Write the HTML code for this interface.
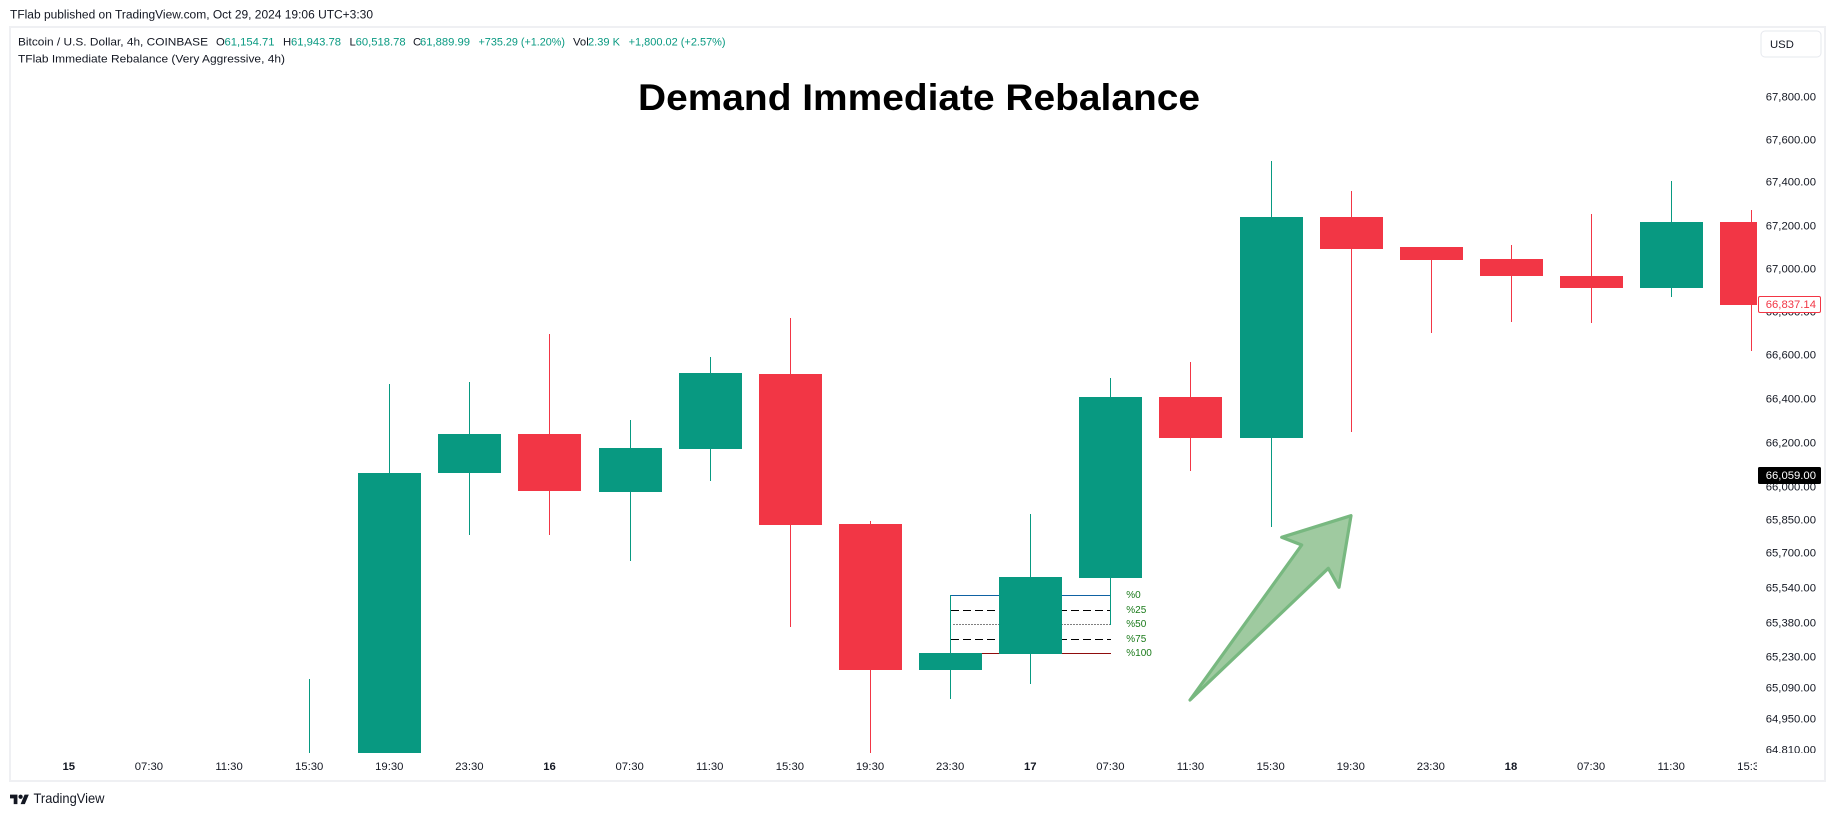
<!DOCTYPE html>
<html lang="en">
<head>
<meta charset="utf-8">
<title>Demand Immediate Rebalance</title>
<style>
html,body{margin:0;padding:0;background:#fff;width:1835px;height:816px;overflow:hidden}
svg{display:block;font-family:"Liberation Sans",Arial,sans-serif}
text{fill:#131722;font-size:11.3px}
.g{fill:#089981}
</style>
</head>
<body>
<svg id="chart" xmlns="http://www.w3.org/2000/svg" width="1835" height="816" viewBox="0 0 1835 816">
  <defs>
    <clipPath id="plot-clip"><rect x="11" y="28" width="1746" height="725"/></clipPath>
    <clipPath id="time-clip"><rect x="11" y="753" width="1746" height="27"/></clipPath>
    <clipPath id="price-clip"><rect x="1757" y="28" width="67" height="725"/></clipPath>
  </defs>
  <rect x="0" y="0" width="1835" height="816" fill="#fff"/>
  <text x="10" y="18.5" textLength="363" lengthAdjust="spacingAndGlyphs" style="font-size:11.5px">TFlab published on TradingView.com, Oct 29, 2024 19:06 UTC+3:30</text>
  <rect x="10" y="27" width="1815" height="754" fill="none" stroke="#eff0f3" stroke-width="2"/>

  <g id="rebalance-lines" clip-path="url(#plot-clip)"></g>
  <g id="candles" clip-path="url(#plot-clip)"></g>
  <g id="rebalance-labels"></g>

  <polygon points="1190,700 1301.7,545 1281.7,537.3 1351,515.7 1339,587.3 1328.3,568.3" fill="#9fcaa0" stroke="#78b880" stroke-width="3.2" stroke-linejoin="round"/>

  <text x="638" y="110" textLength="562" lengthAdjust="spacingAndGlyphs" style="font-size:37px;font-weight:bold;fill:#000">Demand Immediate Rebalance</text>

  <g>
    <text x="18" y="45.5" textLength="190" lengthAdjust="spacingAndGlyphs">Bitcoin / U.S. Dollar, 4h, COINBASE</text>
    <text x="216" y="45.5">O</text>
    <text class="g" x="224.5" y="45.5" textLength="50" lengthAdjust="spacingAndGlyphs">61,154.71</text>
    <text x="283" y="45.5">H</text>
    <text class="g" x="291" y="45.5" textLength="50" lengthAdjust="spacingAndGlyphs">61,943.78</text>
    <text x="349.5" y="45.5">L</text>
    <text class="g" x="355.6" y="45.5" textLength="50" lengthAdjust="spacingAndGlyphs">60,518.78</text>
    <text x="413" y="45.5">C</text>
    <text class="g" x="420" y="45.5" textLength="50" lengthAdjust="spacingAndGlyphs">61,889.99</text>
    <text class="g" x="478.5" y="45.5" textLength="86.5" lengthAdjust="spacingAndGlyphs">+735.29 (+1.20%)</text>
    <text x="573" y="45.5">Vol</text>
    <text class="g" x="588" y="45.5" textLength="32" lengthAdjust="spacingAndGlyphs">2.39 K</text>
    <text class="g" x="628.6" y="45.5" textLength="97" lengthAdjust="spacingAndGlyphs">+1,800.02 (+2.57%)</text>
    <text x="18" y="62.5" textLength="267" lengthAdjust="spacingAndGlyphs">TFlab Immediate Rebalance (Very Aggressive, 4h)</text>
  </g>

  <g id="price-axis" clip-path="url(#price-clip)"></g>
  <g id="time-axis" clip-path="url(#time-clip)"></g>
  <g id="price-tags"></g>

  <g>
    <rect x="1761" y="31" width="60" height="26" rx="4" fill="#fff" stroke="#e6e8ee" stroke-width="1"/>
    <text x="1770" y="48">USD</text>
  </g>

  <g>
    <g transform="translate(10,792.5) scale(0.53)" fill="#131722">
      <path d="M14 22H7V11H0V4h14v18zM28 22h-8l7.5-18h8L28 22z"/>
      <circle cx="20" cy="8" r="4"/>
    </g>
    <text x="33.5" y="803" textLength="71" lengthAdjust="spacingAndGlyphs" style="font-size:14px">TradingView</text>
  </g>
</svg>
<script>
var timeLabels = ['15','07:30','11:30','15:30','19:30','23:30','16','07:30','11:30','15:30','19:30','23:30','17','07:30','11:30','15:30','19:30','23:30','18','07:30','11:30','15:30'];
var boldTimeLabels = ['15','16','17','18'];
var firstCandleLabelIndex = 3;
var opens  = [64300,64500,66062,66240,65975,66171,66515,65830,65170,65242,65585,66409,66222,67239,67100,67045,66966,66911,67216];
var highs  = [65129,66469,66478,66699,66304,66593,66772,65844,65508,65875,66496,66570,67500,67360,67100,67110,67253,67407,67272];
var lows   = [64100,64400,65780,65780,65662,66025,65364,64798,65040,65107,65372,66071,65816,66249,66703,66754,66749,66869,66620];
var closes = [64500,66062,66240,65980,66176,66519,65825,65170,65246,65590,66409,66222,67239,67091,67040,66966,66911,67216,66833];
var priceTicks = [67800,67600,67400,67200,67000,66800,66600,66400,66200,66000,65850,65700,65540,65380,65230,65090,64950,64810];
var levelPrices = [65508,65440,65377,65309,65246];
var levelLabels = ['%0','%25','%50','%75','%100'];
var lastPrice = 66837.14;
var markedPrice = 66059;

var NS = 'http://www.w3.org/2000/svg';
var PLOT_BOTTOM = 753;
var PLOT_RIGHT = 1757;
function yAt(p){ return 96.7 + 14490 * Math.log(67800 / p); }
function xAt(slot){ return 69.2 + 80.12 * slot; }
function fmt(v){ return v.toLocaleString('en-US',{minimumFractionDigits:2,maximumFractionDigits:2}); }
function mk(tag, attrs, parent){
  var el = document.createElementNS(NS, tag);
  for (var k in attrs) el.setAttribute(k, attrs[k]);
  parent.appendChild(el);
  return el;
}

var candleGroup = document.getElementById('candles');
closes.forEach(function(c, i){
  var o = opens[i], up = c >= o;
  var col = up ? '#089981' : '#f23645';
  var left = Math.round(xAt(i + firstCandleLabelIndex) - 31.5);
  var top = Math.min(Math.round(yAt(Math.max(o, c))), PLOT_BOTTOM);
  var bot = Math.min(Math.round(yAt(Math.min(o, c))), PLOT_BOTTOM);
  var hi = Math.min(Math.round(yAt(highs[i])), PLOT_BOTTOM);
  var lo = Math.min(Math.round(yAt(lows[i])), PLOT_BOTTOM);
  var wick = mk('rect', {x: left + 31, y: hi, width: 1, height: Math.max(lo - hi, 0), fill: col, 'shape-rendering': 'crispEdges'}, candleGroup);
  
  
  var body = mk('rect', {x: left, y: top, width: Math.min(63, PLOT_RIGHT - left), height: Math.max(bot - top, 0), fill: col, 'shape-rendering': 'crispEdges'}, candleGroup);
  
  
});

var lineGroup = document.getElementById('rebalance-lines');
var labelGroup = document.getElementById('rebalance-labels');
var levelStrokes = ['#0f62a3','#000','#000','#000','#8f0c0c'];
var levelDash = ['none','8 4','1 2','8 4','none'];
levelPrices.forEach(function(p, i){
  var y = Math.round(yAt(p)) + 0.5;
  var x0 = xAt(firstCandleLabelIndex + 8);
  var x1 = xAt(firstCandleLabelIndex + 10);
  var line = mk('line', {x1: x0 + (i === 2 ? 3 : 0.5), y1: y, x2: x1, y2: y, stroke: levelStrokes[i], 'stroke-width': 1, 'stroke-dasharray': levelDash[i], 'shape-rendering': 'crispEdges'}, lineGroup);
  
  
  var t = mk('text', {x: x1 + 15.5, y: y + 2.5, style: 'font-size:10px;fill:#1a7a1a'}, labelGroup);
  t.textContent = levelLabels[i];
  
  
});

var priceAxis = document.getElementById('price-axis');
priceTicks.forEach(function(p){
  var t = mk('text', {x: 1816, y: Math.round(yAt(p)) + 3.5, 'text-anchor': 'end'}, priceAxis);
  t.textContent = fmt(p);
  
  
});

var timeAxis = document.getElementById('time-axis');
timeLabels.forEach(function(lbl, i){
  var bold = boldTimeLabels.indexOf(lbl) >= 0;
  var t = mk('text', {x: xAt(i) - 0.4, y: 770, 'text-anchor': 'middle', style: bold ? 'font-weight:bold' : ''}, timeAxis);
  t.textContent = lbl;
  
  
});

var tags = document.getElementById('price-tags');
var lastY = Math.round(yAt(lastPrice));
var lastBox = mk('rect', {x: 1758.5, y: lastY - 7.5, width: 62, height: 16, rx: 1.5, fill: '#fff', stroke: '#f23645'}, tags);


var lastText = mk('text', {x: 1816, y: lastY + 4, 'text-anchor': 'end', style: 'fill:#f23645'}, tags);
lastText.textContent = fmt(lastPrice);


var markedY = Math.round(yAt(markedPrice)) + 1;
var markedBox = mk('rect', {x: 1758, y: markedY - 8, width: 63, height: 17, rx: 1.5, fill: '#000'}, tags);


var markedText = mk('text', {x: 1816, y: markedY + 4, 'text-anchor': 'end', style: 'fill:#fff'}, tags);
markedText.textContent = fmt(markedPrice);


</script>
</body>
</html>
